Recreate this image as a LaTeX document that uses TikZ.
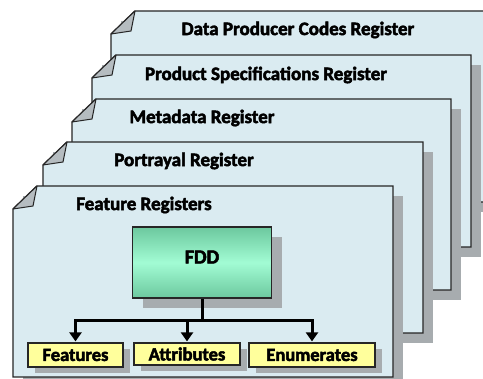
\documentclass[tikz,border=0pt]{standalone}
\usepackage{fontspec}
\setmainfont{Carlito}[BoldFeatures={FakeBold=2.6}]
\usetikzlibrary{arrows.meta,shadows,calc}
\definecolor{pagefill}{HTML}{DAEBF1}
\definecolor{shadowgray}{HTML}{A7ACAF}
\definecolor{foldgray}{HTML}{B5BCC0}
\definecolor{boxyellow}{HTML}{FFFF9C}
\definecolor{fddtop}{HTML}{6CC89E}
\definecolor{fddmid}{HTML}{A2FCD4}
\newcommand\regpage[4]{%
  \fill[shadowgray] (#1+10,#2+10) rectangle (#3+10,#4+10);
  \draw[pageline, fill=pagefill] (#1,#2+23) -- (#1+24,#2) -- (#3,#2) -- (#3,#4) -- (#1,#4) -- cycle;
  \draw[foldline, fill=foldgray] (#1,#2+23) -- (#1+24,#2) -- (#1+20,#2+20) -- cycle;
}
\begin{document}
\begin{tikzpicture}[x=1pt,y=-1pt,
  pageline/.style={draw=black!85, line width=1.4pt, line join=miter},
  foldline/.style={draw=black!85, line width=1pt, line join=round},
  title/.style={font=\fontsize{19}{22}\selectfont\bfseries, inner sep=0pt},
  itembox/.style={draw=black!85, line width=1.2pt, fill=boxyellow, inner sep=0pt,
    font=\fontsize{18.5}{22}\selectfont\bfseries,
    drop shadow={shadow xshift=7pt, shadow yshift=-6pt, fill=shadowgray, opacity=1}},
  fddbox/.style={draw=black!85, line width=1.2pt, top color=fddtop, bottom color=fddtop, middle color=fddmid,
    minimum width=139pt, minimum height=71pt, inner sep=0pt,
    drop shadow={shadow xshift=10pt, shadow yshift=-10pt, fill=shadowgray, opacity=1}},
  conn/.style={line width=3pt, line join=miter},
  arr/.style={conn, -{Triangle[length=9pt,width=12pt]}, shorten >=1pt}]
\useasboundingbox (0,0) rectangle (483,379);
\clip (0,0) rectangle (483,379);
\fill[white] (0,0) rectangle (483,379);

\regpage{111}{11}{500}{202}
\regpage{92}{55}{471}{247}
\regpage{72}{99}{451}{290}
\regpage{43}{142}{423}{333}
\regpage{13}{186}{393}{377}

\node[title] (t5) at (298,30) {Data Producer Codes Register};
\node[title] (t4) at (266,75) {Product Specifications Register};
\node[title] (t3) at (202,118) {Metadata Register};
\node[title] (t2) at (184,161) {Portrayal Register};
\node[title] (t1) at (144,205) {Feature Registers};

\node[fddbox] (fdd) at (202,262.5) {};
\node[title, font=\fontsize{20}{22}\selectfont\bfseries] (fddlabel) at (202,257) {FDD};

\node[itembox, minimum width=95pt, minimum height=24pt] (feat) at (75.5,355) {\raisebox{-2pt}{Features}};
\node[itembox, minimum width=106pt, minimum height=22pt] (attr) at (187,354) {Attributes};
\node[itembox, minimum width=126pt, minimum height=24pt] (enum) at (312,355) {Enumerates};

\coordinate (j) at ($(fdd.south)+(0,22)$);
\draw[conn] (fdd.south) -- (j);
\draw[arr] (j) -| (feat.north);
\draw[arr] (j) -| (attr.north);
\draw[arr] (j) -| (enum.north);
\end{tikzpicture}
\end{document}
